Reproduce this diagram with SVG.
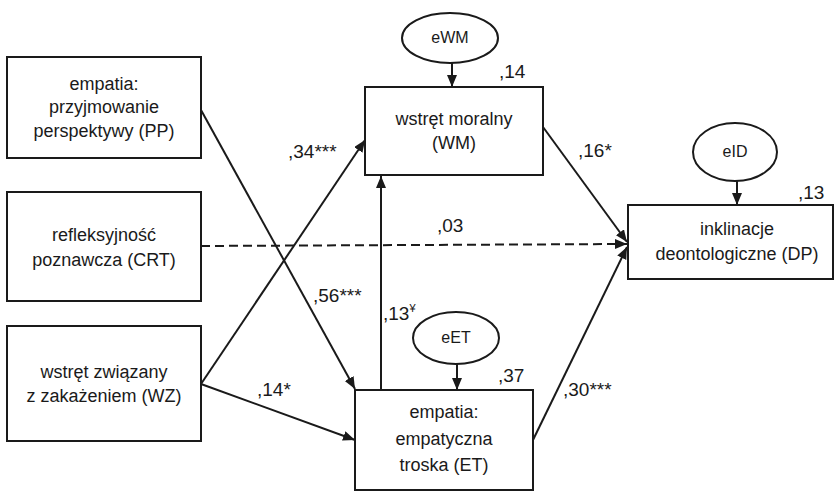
<svg xmlns="http://www.w3.org/2000/svg" width="835" height="491" viewBox="0 0 835 491">
  <style>
    .box { fill: #ffffff; stroke: #1a1a1a; stroke-width: 2; }
    .err { fill: #ffffff; stroke: #1a1a1a; stroke-width: 2; }
    .lbl { font-family: "Liberation Sans", Arial, sans-serif; font-size: 18px; fill: #1a1a1a; text-anchor: middle; }
    .elbl { font-family: "Liberation Sans", Arial, sans-serif; font-size: 16px; fill: #1a1a1a; text-anchor: middle; }
    .coef { font-family: "Liberation Sans", Arial, sans-serif; font-size: 19px; fill: #1a1a1a; }
    .sup { font-size: 11px; }
    .edge { fill: none; stroke: #1a1a1a; stroke-width: 2; marker-end: url(#arrow); }
    .dash { stroke-dasharray: 9 5; }
  </style>
  <defs>
    <marker id="arrow" markerUnits="userSpaceOnUse" markerWidth="13" markerHeight="11" refX="12" refY="5" orient="auto">
      <path d="M0,0 L12,5 L0,10 z" fill="#1a1a1a"/>
    </marker>
  </defs>

  <rect width="835" height="491" fill="#ffffff"/>

  <!-- paths between variables -->
  <g id="connectors">
    <line class="edge" x1="201" y1="110" x2="355" y2="389"/>
    <line class="edge" x1="201" y1="384" x2="365" y2="140"/>
    <line class="edge" x1="201" y1="384" x2="355" y2="440"/>
    <line class="edge dash" x1="201" y1="246" x2="627" y2="244"/>
    <line class="edge" x1="381" y1="390" x2="381" y2="176"/>
    <line class="edge" x1="543" y1="127" x2="627" y2="242"/>
    <line class="edge" x1="533" y1="440" x2="627" y2="247"/>
    <line class="edge" x1="452" y1="63" x2="452" y2="87"/>
    <line class="edge" x1="457" y1="364" x2="457" y2="390"/>
    <line class="edge" x1="737" y1="181" x2="737" y2="205"/>
  </g>

  <!-- path coefficients and explained variance -->
  <g id="coefficients">
    <text class="coef" x="288" y="158">,34***</text>
    <text class="coef" x="313" y="302">,56***</text>
    <text class="coef" x="257" y="396">,14*</text>
    <text class="coef" x="437" y="232">,03</text>
    <text class="coef" x="383" y="320">,13<tspan class="sup" dy="-8">¥</tspan></text>
    <text class="coef" x="578" y="157">,16*</text>
    <text class="coef" x="563" y="396">,30***</text>
    <text class="coef" x="499" y="78">,14</text>
    <text class="coef" x="798" y="199">,13</text>
    <text class="coef" x="498" y="382">,37</text>
  </g>

  <g id="PP">
    <rect class="box" x="7" y="57" width="194" height="101"/>
    <text class="lbl" x="104" y="90">empatia:</text>
    <text class="lbl" x="104" y="113">przyjmowanie</text>
    <text class="lbl" x="104" y="137">perspektywy (PP)</text>
  </g>

  <g id="CRT">
    <rect class="box" x="7" y="192" width="194" height="109"/>
    <text class="lbl" x="104" y="241">refleksyjność</text>
    <text class="lbl" x="104" y="266">poznawcza (CRT)</text>
  </g>

  <g id="WZ">
    <rect class="box" x="7" y="326" width="194" height="115"/>
    <text class="lbl" x="104" y="378">wstręt związany</text>
    <text class="lbl" x="104" y="402">z zakażeniem (WZ)</text>
  </g>

  <g id="WM">
    <rect class="box" x="365" y="87" width="178" height="88"/>
    <text class="lbl" x="454" y="125">wstręt moralny</text>
    <text class="lbl" x="454" y="149">(WM)</text>
  </g>

  <g id="ET">
    <rect class="box" x="355" y="390" width="178" height="100"/>
    <text class="lbl" x="444" y="418">empatia:</text>
    <text class="lbl" x="444" y="445">empatyczna</text>
    <text class="lbl" x="444" y="471">troska (ET)</text>
  </g>

  <g id="DP">
    <rect class="box" x="628" y="205" width="205" height="74"/>
    <text class="lbl" x="737" y="235">inklinacje</text>
    <text class="lbl" x="737" y="260">deontologiczne (DP)</text>
  </g>

  <g id="eWM">
    <ellipse class="err" cx="450" cy="38" rx="48" ry="25"/>
    <text class="elbl" x="450" y="43">eWM</text>
  </g>

  <g id="eID">
    <ellipse class="err" cx="735" cy="152" rx="42" ry="29"/>
    <text class="elbl" x="735" y="157">eID</text>
  </g>

  <g id="eET">
    <ellipse class="err" cx="456" cy="338" rx="43" ry="26"/>
    <text class="elbl" x="456" y="343">eET</text>
  </g>
</svg>
